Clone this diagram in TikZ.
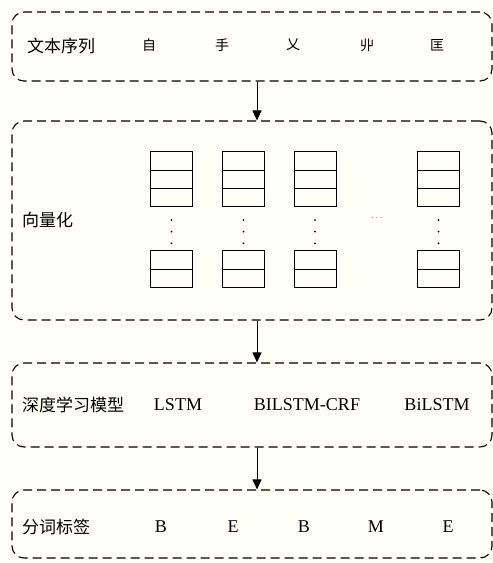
\documentclass[tikz,border=0pt]{standalone}
\usepackage{fontspec}
\setmainfont{Liberation Serif}
\newfontfamily\cjk{Noto Sans CJK SC}
\usetikzlibrary{arrows.meta, positioning}
\definecolor{paperbg}{RGB}{255,255,248}

\begin{document}
\begin{tikzpicture}[
    x=1pt, y=-1pt,
    stage/.style={draw, line width=1.1pt, dash pattern=on 9pt off 5pt, rounded corners=12pt, minimum width=480pt, inner sep=0pt},
    cell/.style={draw, line width=0.9pt, minimum width=42pt, minimum height=18.3pt, inner sep=0pt},
    lbl/.style={font=\cjk\fontsize{17}{19}\selectfont, anchor=west, inner sep=0pt},
    tok/.style={font=\fontsize{18}{20}\selectfont, inner sep=0pt},
    glyph/.style={font=\cjk\fontsize{14}{16}\selectfont, inner sep=0pt},
    arr/.style={-{Triangle[length=10pt,width=9pt]}, line width=0.9pt},
  ]
  \fill[paperbg] (0,0) rectangle (493,563);
  \useasboundingbox (0,0) rectangle (493,563);
  \node[stage, minimum height=69pt] (seq) at (252,46.5) {};
  \node[stage, minimum height=199pt] (vec) at (252,220.5) {};
  \node[stage, minimum height=84pt] (model) at (252,405) {};
  \node[stage, minimum height=68pt] (tags) at (252,524) {};
  \draw[arr] ([xshift=5pt]seq.south) -- ([xshift=5pt]vec.north);
  \draw[arr] ([xshift=5pt]vec.south) -- ([xshift=5pt]model.north);
  \draw[arr] ([xshift=5pt]model.south) -- ([xshift=5pt]tags.north);
  \node[lbl] (seqlbl) at (27,46) {文本序列};
  \foreach \i/\x/\g in {1/149/自,2/222/手,3/293/乂,4/367/丱,5/437/匡}
    \node[glyph] (ch\i) at (\x,45) {\g};
  \node[lbl] (veclbl) at (22,220) {向量化};
  \foreach \c/\x in {1/171.5,2/243.5,3/315,4/438.5} {
    \foreach \r/\y in {1/161,2/179.3,3/197.6}
      \node[cell] (top\c\r) at (\x,\y) {};
    \foreach \r/\y in {1/260,2/278.3}
      \node[cell] (bot\c\r) at (\x,\y) {};
    \foreach \y in {220,231.7,243.3}
      \fill (\x,\y) circle (1);
  }
  \node[font=\small, inner sep=0pt] (more) at (377,218) {$\cdots$};
  \node[lbl] (modellbl) at (22,405) {深度学习模型};
  \node[tok] (m1) at (178,405) {LSTM};
  \node[tok] (m2) at (307,405) {BILSTM-CRF};
  \node[tok] (m3) at (437,405) {BiLSTM};
  \node[lbl] (tagslbl) at (22,527) {分词标签};
  \foreach \i/\x/\t in {1/161/B,2/233/E,3/304/B,4/376/M,5/448/E}
    \node[tok] (t\i) at (\x,527) {\t};
\end{tikzpicture}
\end{document}
